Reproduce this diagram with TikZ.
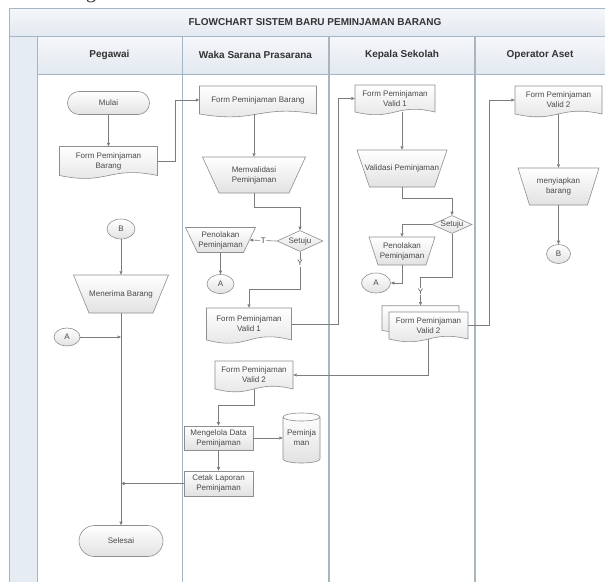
\documentclass[tikz,border=0pt]{standalone}
\usepackage{fontspec}
\setmainfont{Liberation Sans}
\newfontfamily\fragfont{Liberation Serif}
\usetikzlibrary{arrows.meta,shapes.geometric,calc}
\definecolor{frameC}{HTML}{A3B5C6}
\definecolor{laneC}{HTML}{A9B6BE}
\definecolor{titleTop}{HTML}{F5F7FA}
\definecolor{titleBot}{HTML}{E3E9F0}
\definecolor{stripC}{HTML}{E6ECF3}
\definecolor{shapeC}{HTML}{8E8E8E}
\definecolor{fillBot}{HTML}{E2E2E2}
\definecolor{txtC}{HTML}{4A4A4A}
\definecolor{connC}{HTML}{7C7C7C}
\tikzset{
  shp/.style={draw=shapeC, line width=0.6pt, top color=white, bottom color=fillBot},
  txt/.style={inner sep=0pt, text=txtC, font=\fontsize{8}{10}\selectfont, align=center},
  conn/.style={draw=connC, line width=0.6pt, -{Triangle[length=3.5pt,width=3pt]}},
  lbl/.style={fill=white, inner sep=0.8pt, text=txtC, font=\fontsize{8}{9}\selectfont},
  circ/.style={ellipse, shp, txt},
  hdr/.style={font=\bfseries\fontsize{10}{12}\selectfont, text=black!80, inner sep=0pt},
}
% document outline: x y w h
\newcommand{\docshape}[4]{%
  \draw[shp] ({#1-#3/2},{#2-#4/2}) -- ({#1+#3/2},{#2-#4/2}) -- ({#1+#3/2},{#2+#4/2})
    .. controls ({#1},{#2+#4/2-0.35*#4}) and ({#1},{#2+#4/2+0.35*#4}) .. ({#1-#3/2},{#2+#4/2}) -- cycle;}
\newcommand{\docnode}[6]{\docshape{#2}{#3}{#4}{#5}%
  \node[txt, minimum width=#4pt, minimum height=#5pt] (#1) at (#2,#3) {#6};}
% manual operation: name x y topw botw h text
\newcommand{\trapnode}[7]{%
  \draw[shp] ({#2-#4/2},{#3-#6/2}) -- ({#2+#4/2},{#3-#6/2}) -- ({#2+#5/2},{#3+#6/2}) -- ({#2-#5/2},{#3+#6/2}) -- cycle;
  \pgfmathsetmacro\tmpw{(#4+#5)/2}%
  \node[txt, minimum width=\tmpw pt, minimum height=#6pt] (#1) at (#2,#3) {#7};}
% cylinder: name x y w h text
\newcommand{\cylnode}[6]{%
  \pgfmathsetmacro\cxl{#2-#4/2}\pgfmathsetmacro\cxr{#2+#4/2}%
  \pgfmathsetmacro\cyt{#3-#5/2+4}\pgfmathsetmacro\cyb{#3+#5/2-4}%
  \pgfmathsetmacro\crx{#4/2}%
  \draw[shp] (\cxl,\cyt) -- (\cxl,\cyb) arc[start angle=180,end angle=360,x radius=\crx pt,y radius=4pt]
    -- (\cxr,\cyt) arc[start angle=0,end angle=180,x radius=\crx pt,y radius=4pt] -- cycle;
  \draw[draw=shapeC, line width=0.6pt] (\cxl,\cyt) arc[start angle=180,end angle=360,x radius=\crx pt,y radius=4pt];
  \node[txt, minimum width=#4pt, minimum height=#5pt] (#1) at (#2,#3) {#6};}
\begin{document}
\begin{tikzpicture}[x=1pt,y=-1pt]
\useasboundingbox (0,0) rectangle (605,581);
\clip (0,0) rectangle (605,581);
\fill[white] (0,0) rectangle (605,581);
% fragment of text above the frame
\begin{scope}
  \clip (70,0) rectangle (115,7.5);
  \node[anchor=base, inner sep=0pt, font=\fragfont\fontsize{20}{20}\selectfont, text=black!85] (frag) at (91,-1.3) {g};
\end{scope}
% frame
\fill[stripC] (9,36) rectangle (37,590);
\shade[top color=titleTop, bottom color=titleBot] (9,8) rectangle (615,36);
\shade[top color=titleTop, bottom color=titleBot] (37,36) rectangle (615,74);
\draw[frameC, line width=0.9pt] (615,8) -- (9,8) -- (9,590);
\draw[frameC, line width=0.7pt] (9,36) -- (615,36) (37,74) -- (615,74) (37,36) -- (37,590);
\draw[frameC, line width=0.8pt] (182,36) -- (182,590);
\draw[laneC, line width=1.3pt] (329,36) -- (329,590) (475,36) -- (475,590);
\node[hdr] (title) at (315,22) {FLOWCHART SISTEM BARU PEMINJAMAN BARANG};
\node[hdr] (hp) at (109.5,55) {Pegawai};
\node[hdr] (hw) at (255.5,55) {Waka Sarana Prasarana};
\node[hdr] (hk) at (402,55) {Kepala Sekolah};
\node[hdr] (ho) at (540,55) {Operator Aset};
% Pegawai
\node[shp, txt, rounded corners=11.5pt, minimum width=82pt, minimum height=23pt] (mulai) at (108.5,103) {Mulai};
\docnode{pdoc}{108.5}{161}{98}{29}{Form Peminjaman\\Barang}
\node[circ, minimum width=28pt, minimum height=20pt] (pB) at (121,229) {B};
\trapnode{terima}{121}{294}{95}{64}{38}{Menerima Barang}
\node[circ, minimum width=26pt, minimum height=18pt] (pA) at (67,337) {A};
\node[shp, txt, rounded corners=15.5pt, minimum width=84pt, minimum height=31pt] (selesai) at (121,541) {Selesai};
% Waka
\docnode{wdoc}{258}{100}{117}{28}{Form Peminjaman Barang}
\trapnode{wval}{254}{175}{103}{70}{36}{Memvalidasi\\Peminjaman}
\node[diamond, shp, txt, aspect=2.2, minimum width=46pt, minimum height=21pt] (wset) at (300,241) {Setuju};
\trapnode{wtolak}{220.5}{240}{70}{46}{25}{Penolakan\\Peminjaman}
\node[circ, minimum width=27pt, minimum height=19pt] (wA) at (220.5,284) {A};
\docnode{wv1}{249}{324}{85}{32}{Form Peminjaman\\Valid 1}
\docnode{wv2}{254}{375}{78}{28}{Form Peminjaman\\Valid 2}
\node[shp, txt, minimum width=69pt, minimum height=24pt] (meng) at (218.5,438) {Mengelola Data\\Peminjaman};
\cylnode{cyl}{301.5}{438}{37}{50}{Peminja\\man}
\node[shp, txt, minimum width=69pt, minimum height=25pt] (cetak) at (218.5,483.5) {Cetak Laporan\\Peminjaman};
% Kepala
\docnode{kv1}{395}{98.5}{80}{27}{Form Peminjaman\\Valid 1}
\trapnode{kval}{402}{168.5}{90}{65}{37}{Validasi Peminjaman}
\node[diamond, shp, txt, aspect=2.2, minimum width=40pt, minimum height=18pt] (kset) at (452,224.5) {Setuju};
\trapnode{ktolak}{402}{251}{66}{48}{28}{Penolakan\\Peminjaman}
\node[circ, minimum width=29pt, minimum height=20pt] (kA) at (376,283) {A};
\docnode{kv2b}{420.5}{318}{77}{24.5}{}
\docnode{kv2}{428.5}{325.5}{79}{27}{Form Peminjaman\\Valid 2}
% Operator
\docnode{ov2}{558.5}{100}{87}{28}{Form Peminjaman\\Valid 2}
\trapnode{siap}{558.5}{186.5}{81}{58}{37}{menyiapkan\\barang}
\node[circ, minimum width=24pt, minimum height=19pt] (oB) at (558.5,254) {B};
% connectors
\draw[conn] (mulai.south) -- (pdoc.north);
\draw[conn] (pdoc.east) -- ++(18,0) |- (wdoc.west);
\draw[conn] (wdoc.south -| wval.north) -- (wval.north);
\draw[conn] (wval.south) -- ++(0,14) -| (wset.north);
\draw[conn] (wset.west) -- node[lbl]{T} (wtolak.east);
\draw[conn] (wtolak.south) -- (wA.north);
\draw[conn] (wset.south) -- node[lbl, pos=0.3]{Y} ++(0,37.5) -| (wv1.north);
\draw[conn] (wv1.east) -- ++(46.5,0) |- (kv1.west);
\draw[conn] (kv1.south -| kval.north) -- (kval.north);
\draw[conn] (kval.south) -- ++(0,11) -| (kset.north);
\draw[conn] (kset.west) -| (ktolak.north);
\draw[conn] (ktolak.south) |- (kA.east);
\draw[conn] (kset.south) -- ++(0,43.5) -| node[lbl, pos=0.75]{Y} (kv2b.north);
\draw[conn] (kv2.east) -- ++(21.5,0) |- (ov2.west);
\draw[conn] (kv2.south) |- (wv2.east);
\draw[conn] (ov2.south) -- (siap.north);
\draw[conn] (siap.south) -- (oB.north);
\draw[conn] (wv2.south) -- ++(0,16) -| (meng.north);
\draw[conn] (meng.east) -- (cyl.west);
\draw[conn] (meng.south) -- (cetak.north);
\draw[conn] (cetak.west) -- (cetak.west -| terima.south);
\draw[conn] (pB.south) -- (terima.north);
\draw[conn] (terima.south) -- (selesai.north);
\draw[conn] (pA.east) -- (pA.east -| terima.south);
\end{tikzpicture}
\end{document}
